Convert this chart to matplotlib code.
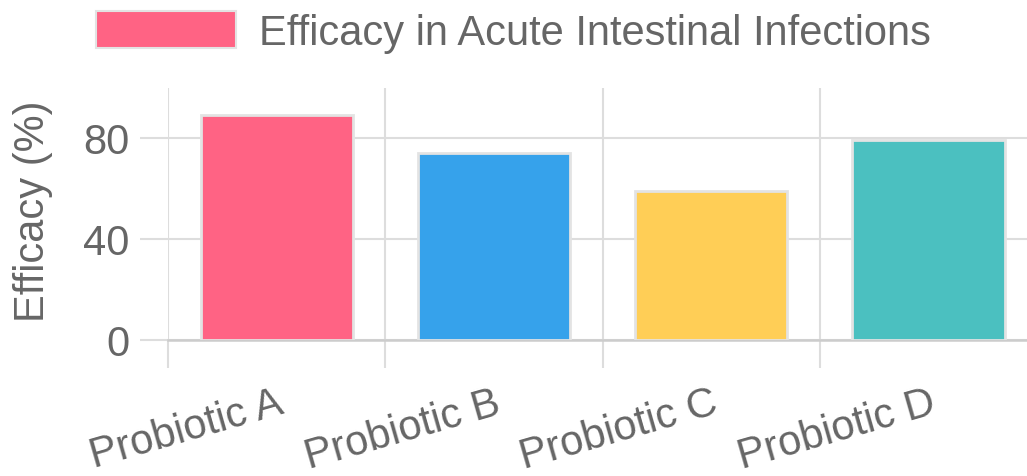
import matplotlib
matplotlib.use("Agg")
import matplotlib.pyplot as plt
from matplotlib.patches import Patch

plt.rcParams['font.family'] = ['Liberation Sans', 'DejaVu Sans']

categories = ["Probiotic A", "Probiotic B", "Probiotic C", "Probiotic D"]
efficacy = [89, 74, 59, 79]
colors = ["#FF6384", "#36A2EB", "#FFCE56", "#4BC0C0"]
series_label = "Efficacy in Acute Intestinal Infections"
y_ticks = [0, 40, 80]

W, H = 1027, 477
fig = plt.figure(figsize=(W / 100, H / 100), dpi=100)
ax = fig.add_axes([168 / W, (H - 340.5) / H, 869.2 / W, 252 / H])

text_color = "#666666"
grid_color = "#dddddd"
fs = 30

x = list(range(len(categories)))
ax.bar(x, efficacy, width=0.70, color=colors, edgecolor="#e3e3e3", linewidth=2, zorder=3)

ax.set_xlim(-0.5, len(categories) - 0.5)
ax.set_ylim(0, 100)

# y axis
ax.set_yticks(y_ticks)
ax.set_yticklabels([str(v) for v in y_ticks], fontsize=fs, color=text_color)
ax.tick_params(axis='y', which='major', length=20, width=1.5, color=grid_color, pad=8)
ax.yaxis.grid(True, color=grid_color, linewidth=1.5, zorder=0)

# x axis: labels at centers, grid at boundaries
ax.set_xticks(x)
ax.set_xticklabels(categories, fontsize=fs, color=text_color, rotation=16,
                   ha='right', va='top', rotation_mode='anchor')
ax.tick_params(axis='x', which='major', length=0, pad=31)
ax.set_xticks([i - 0.5 for i in range(len(categories) + 1)], minor=True)
ax.tick_params(axis='x', which='minor', length=20, width=1.5, color=grid_color)
ax.xaxis.grid(True, which='minor', color=grid_color, linewidth=1.5, zorder=0)
ax.xaxis.grid(False, which='major')
ax.set_axisbelow(True)

for s in ['top', 'right', 'left']:
    ax.spines[s].set_visible(False)
ax.spines['bottom'].set_color("#cccccc")
ax.spines['bottom'].set_linewidth(1.8)

fig.text(33 / W, 1 - 211.5 / H, "Efficacy (%)", rotation=90, ha='center', va='center',
         fontsize=fs, color=text_color)

handle = Patch(facecolor=colors[0], edgecolor="#e3e3e3", linewidth=1.5)
leg = fig.legend([handle], [series_label], loc='center', bbox_to_anchor=(0.5, 1 - 33 / H),
                 frameon=False, fontsize=fs, handlelength=140 / 41.7, handleheight=42 / 41.7,
                 handletextpad=24 / 41.7, labelcolor=text_color, borderpad=0)

fig.savefig("out.png", dpi=100)
